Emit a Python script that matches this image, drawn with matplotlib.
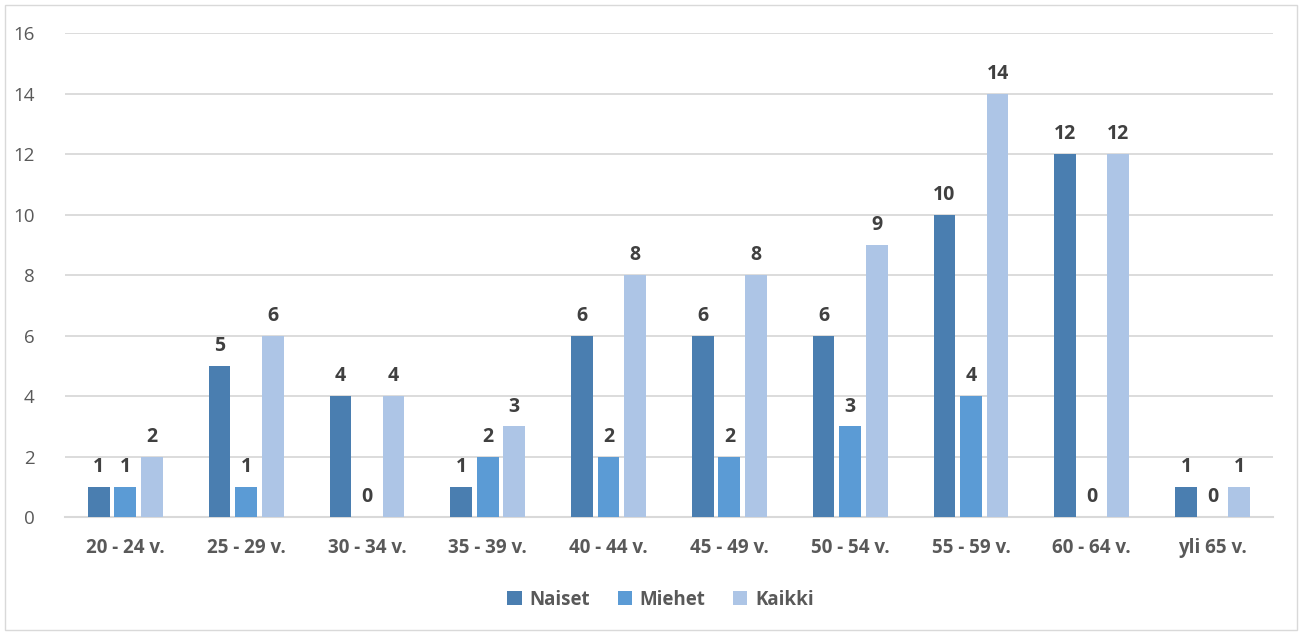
import matplotlib.pyplot as plt
import numpy as np
from matplotlib.patches import Rectangle

ryhmat = ['20 - 24 v.', '25 - 29 v.', '30 - 34 v.', '35 - 39 v.', '40 - 44 v.',
          '45 - 49 v.', '50 - 54 v.', '55 - 59 v.', '60 - 64 v.', 'yli 65 v.']
naiset = [1, 5, 4, 1, 6, 6, 6, 10, 12, 1]
miehet = [1, 1, 0, 2, 2, 2, 3, 4, 0, 0]
kaikki = [2, 6, 4, 3, 8, 8, 9, 14, 12, 1]

plt.rcParams['font.family'] = ['Open Sans', 'DejaVu Sans']

fig = plt.figure(figsize=(13.02, 6.35), dpi=100)
ax = fig.add_axes([0.0499, 0.1858, 0.9278, 0.7622])

x = np.arange(len(ryhmat))
w = 0.18
step = 0.22
sarjat = [('Naiset', naiset, '#4a7eb0'), ('Miehet', miehet, '#5b9bd5'), ('Kaikki', kaikki, '#adc5e6')]
for i, (nimi, arvot, vari) in enumerate(sarjat):
    bars = ax.bar(x + (i - 1) * step, arvot, w, color=vari, label=nimi, zorder=3)
    for b, v in zip(bars, arvot):
        ax.annotate(str(v), (b.get_x() + b.get_width() / 2, v), xytext=(0, 7),
                    textcoords='offset points', ha='center', va='bottom',
                    fontsize=14, fontweight='bold', color='#404040')

ax.set_xlim(-0.5, len(ryhmat) - 0.5)
ax.set_ylim(0, 16)
ax.set_yticks(range(0, 17, 2))
ax.set_xticks(x)
ax.set_xticklabels(ryhmat, fontsize=13.5, fontweight='bold', color='#595959')
ax.tick_params(axis='x', length=0, pad=15)
ax.tick_params(axis='y', length=0, pad=22, labelsize=13.5, labelcolor='#595959')
ax.grid(axis='y', color='#d9d9d9', linewidth=1.3, zorder=0)
for s in ['top', 'right', 'left']:
    ax.spines[s].set_visible(False)
ax.spines['bottom'].set_color('#d9d9d9')
ax.spines['bottom'].set_linewidth(1.5)

leg = ax.legend(loc='upper center', bbox_to_anchor=(0.493, -0.115), ncol=3, frameon=False,
                handlelength=0.75, handleheight=0.75, columnspacing=1.5, handletextpad=0.4,
                prop={'weight': 'bold', 'size': 13.5})
for t in leg.get_texts():
    t.set_color('#595959')

fig.patches.append(Rectangle((5 / 1302, 5 / 635), 1292 / 1302, 625 / 635, transform=fig.transFigure,
                             fill=False, edgecolor='#d9d9d9', linewidth=1))

fig.savefig('out.png', dpi=100)
